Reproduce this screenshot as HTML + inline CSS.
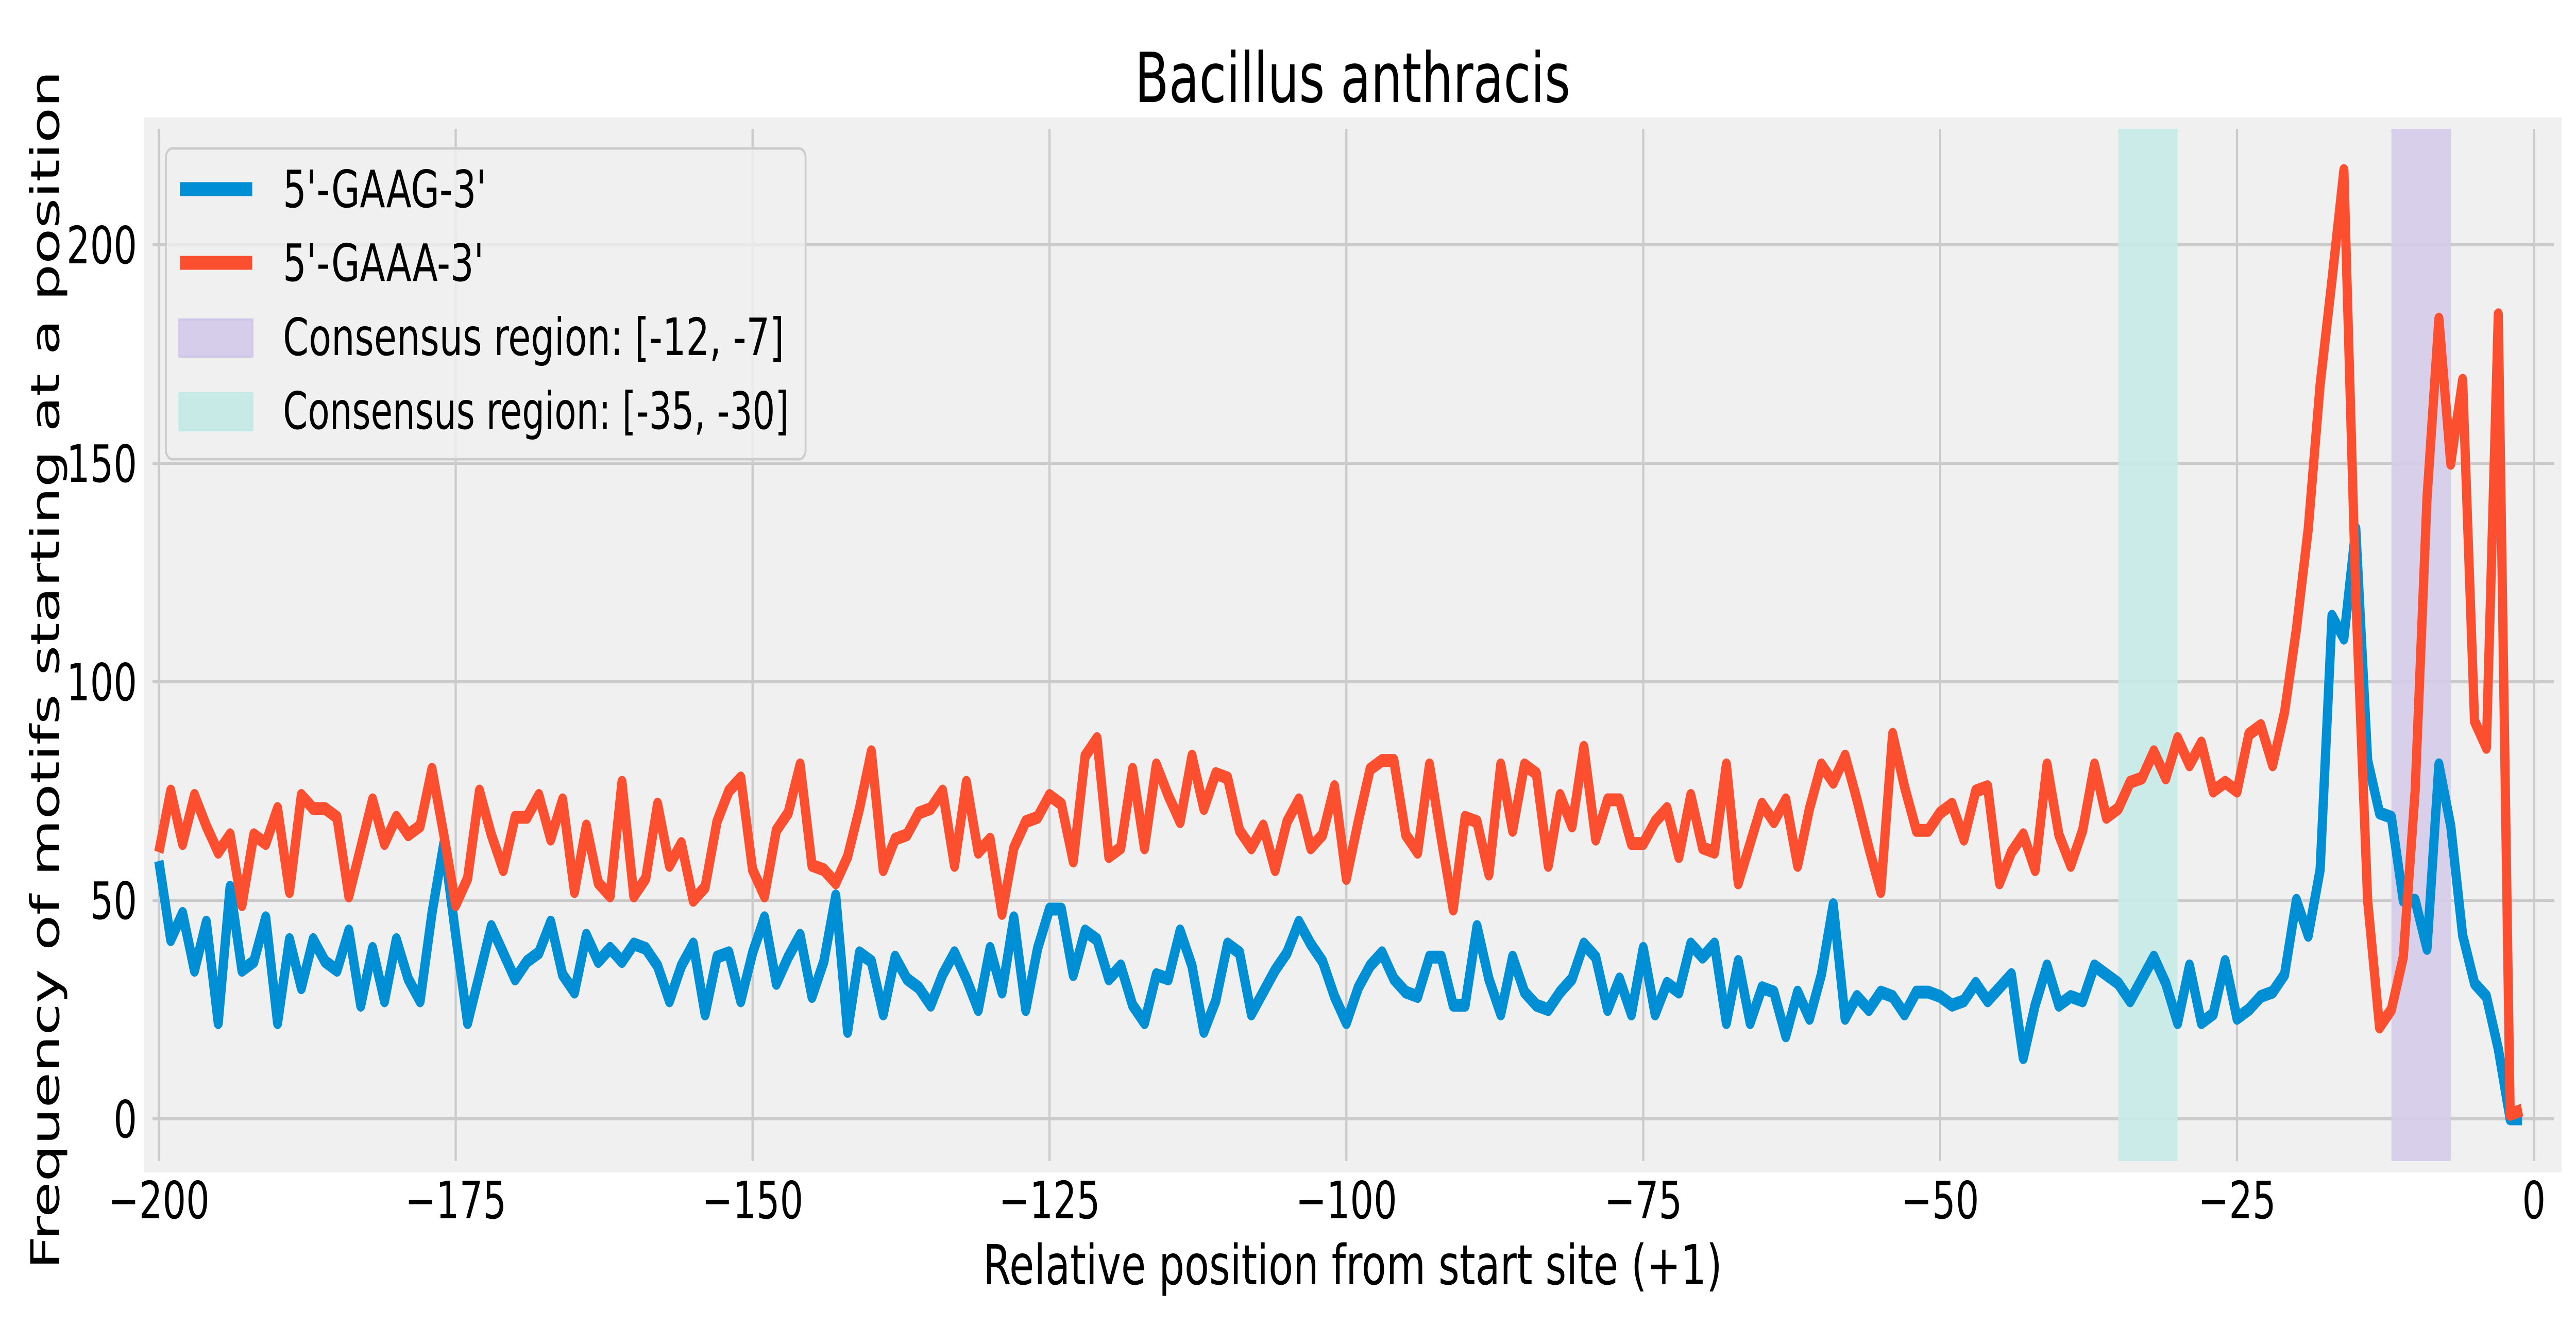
<!DOCTYPE html>
<html><head><meta charset="utf-8">
<style>
html,body{margin:0;padding:0;background:#fff;overflow:hidden;width:100%;height:100%;}
svg{display:block;width:100vw;height:100vh;font-family:"DejaVu Sans","Liberation Sans",sans-serif;}
</style></head>
<body>
<svg id="chart" xmlns="http://www.w3.org/2000/svg" viewBox="0 0 6974 2573" preserveAspectRatio="none">
<rect x="0" y="0" width="6974" height="2573" fill="#ffffff"/>
<rect x="390" y="228" width="6545" height="2047" fill="#f0f0f0"/>
<g id="grid"></g>
<g id="spans"></g>
<g id="series"></g>
<g id="ticks"></g>
<text x="3662" y="198" font-size="134" text-anchor="middle" fill="#000">Bacillus anthracis</text>
<text x="3662" y="2492" font-size="107" text-anchor="middle" textLength="2001" lengthAdjust="spacingAndGlyphs" fill="#000">Relative position from start site (+1)</text>
<text x="0" y="0" font-size="107" text-anchor="middle" textLength="2326" lengthAdjust="spacingAndGlyphs" fill="#000" transform="translate(160,1300) rotate(-90)">Frequency of motifs starting at a position</text>
<g>
<rect x="449" y="288" width="1732" height="603" rx="18" fill="#f0f0f0" fill-opacity="0.8" stroke="#cccccc" stroke-width="5"/>
<line x1="487" y1="367" x2="683" y2="367" stroke="#008fd5" stroke-width="27"/>
<text x="766" y="402" font-size="100" fill="#000">5'-GAAG-3'</text>
<line x1="487" y1="510" x2="683" y2="510" stroke="#fc4f30" stroke-width="27"/>
<text x="766" y="545" font-size="100" fill="#000">5'-GAAA-3'</text>
<rect x="485" y="620" width="199" height="72" fill="#d6cdea" stroke="#cfc4ea" stroke-width="4"/>
<text x="766" y="689" font-size="100" fill="#000">Consensus region: [-12, -7]</text>
<rect x="485" y="763" width="199" height="72" fill="#c8eae7" stroke="#c2ebe6" stroke-width="4"/>
<text x="766" y="832" font-size="100" textLength="1370" lengthAdjust="spacingAndGlyphs" fill="#000">Consensus region: [-35, -30]</text>
</g>
</svg>
<script>
const positions = [];
for (let p = -200; p <= -1; p++) positions.push(p);
const gaag = [
59,41,47,34,45,22,53,34,36,46, 22,41,30,41,36,34,43,26,39,27, 41,32,27,47,63,42,22,33,44,38, 32,36,38,45,33,29,42,36,39,36, 40,39,35,27,35,40,24,37,38,27,
38,46,31,37,42,28,36,51,20,38, 36,24,37,32,30,26,33,38,32,25, 39,29,46,25,39,48,48,33,43,41, 32,35,26,22,33,32,43,35,20,27, 40,38,24,29,34,38,45,40,36,28,
22,30,35,38,32,29,28,37,37,26, 26,44,32,24,37,29,26,25,29,32, 40,37,25,32,24,39,24,31,29,40, 37,40,22,36,22,30,29,19,29,23, 33,49,23,28,25,29,28,24,29,29,
28,26,27,31,27,30,33,14,26,35, 26,28,27,35,33,31,27,32,37,31, 22,35,22,24,36,23,25,28,29,33, 50,42,57,115,110,135,82,70,69,50, 50,39,81,67,42,31,28,16,0,0
];
const gaaa = [
61,75,63,74,67,61,65,49,65,63, 71,52,74,71,71,69,51,62,73,63, 69,65,67,80,65,49,55,75,65,57, 69,69,74,64,73,52,67,54,51,77, 51,55,72,58,63,50,53,68,75,78,
57,51,66,70,81,58,57,54,60,71, 84,57,64,65,70,71,75,58,77,61, 64,47,62,68,69,74,72,59,83,87, 60,62,80,62,81,74,68,83,71,79, 78,66,62,67,57,68,73,62,65,76,
55,68,80,82,82,65,61,81,64,48, 69,68,56,81,66,81,79,58,74,67, 85,64,73,73,63,63,68,71,60,74, 62,61,81,54,63,72,68,73,58,71, 81,77,83,73,62,52,88,76,66,66,
70,72,64,75,76,54,61,65,57,81, 65,58,66,81,69,71,77,78,84,78, 87,81,86,75,77,75,88,90,81,93, 112,135,168,192,217,120,50,21,25,37, 75,142,183,150,169,91,85,184,1,2
];
const xTicks = [-200,-175,-150,-125,-100,-75,-50,-25,0];
const xTickLabels = ["\u2212200","\u2212175","\u2212150","\u2212125","\u2212100","\u221275","\u221250","\u221225","0"];
const yTicks = [0,50,100,150,200];
const yTickLabels = ["0","50","100","150","200"];
const regionStarts = [-12,-35];
const regionEnds = [-7,-30];
const regionNames = ["region-12-7","region-35-30"];
const regionColors = ["#d6cdea","#c8eae7"];

const NS = "http://www.w3.org/2000/svg";
const xs = v => 6860 + v * 32.15;
const ys = v => 2171 - v * 8.48;
function mk(tag, attrs, parent) {
  const e = document.createElementNS(NS, tag);
  for (const k in attrs) e.setAttribute(k, attrs[k]);
  parent.appendChild(e);
  return e;
}
const grid = document.getElementById('grid');
const spans = document.getElementById('spans');
const series = document.getElementById('series');
const ticks = document.getElementById('ticks');

xTicks.forEach((t, i) => {
  const l = mk('line', {x1: xs(t), x2: xs(t), y1: 250, y2: 2253, stroke: '#cbcbcb', 'stroke-width': 6}, grid);
  
  
  const tx = mk('text', {x: xs(t), y: 2364, 'font-size': 100, 'text-anchor': 'middle', fill: '#000'}, ticks);
  tx.textContent = xTickLabels[i];
  
  
});
yTicks.forEach((t, i) => {
  const l = mk('line', {x1: 413, x2: 6915, y1: ys(t), y2: ys(t), stroke: '#cbcbcb', 'stroke-width': 6}, grid);
  
  
  const tx = mk('text', {x: 371, y: ys(t) + 36, 'font-size': 100, 'text-anchor': 'end', fill: '#000'}, ticks);
  tx.textContent = yTickLabels[i];
  
  
});
regionStarts.forEach((s, i) => {
  const r = mk('rect', {x: xs(s), y: 250, width: xs(regionEnds[i]) - xs(s), height: 2003, fill: regionColors[i], 'fill-opacity': 0.92}, spans);
  
  
});
function drawLine(vals, color, name) {
  const pts = vals.map((v, i) => xs(positions[i]).toFixed(1) + ',' + ys(v).toFixed(1)).join(' ');
  const pl = mk('polyline', {points: pts, fill: 'none', stroke: color, 'stroke-width': 25, 'stroke-linejoin': 'round', 'stroke-linecap': 'butt'}, series);
  
  
}
drawLine(gaag, '#008fd5', 'gaag-line');
drawLine(gaaa, '#fc4f30', 'gaaa-line');
</script>
</body></html>
